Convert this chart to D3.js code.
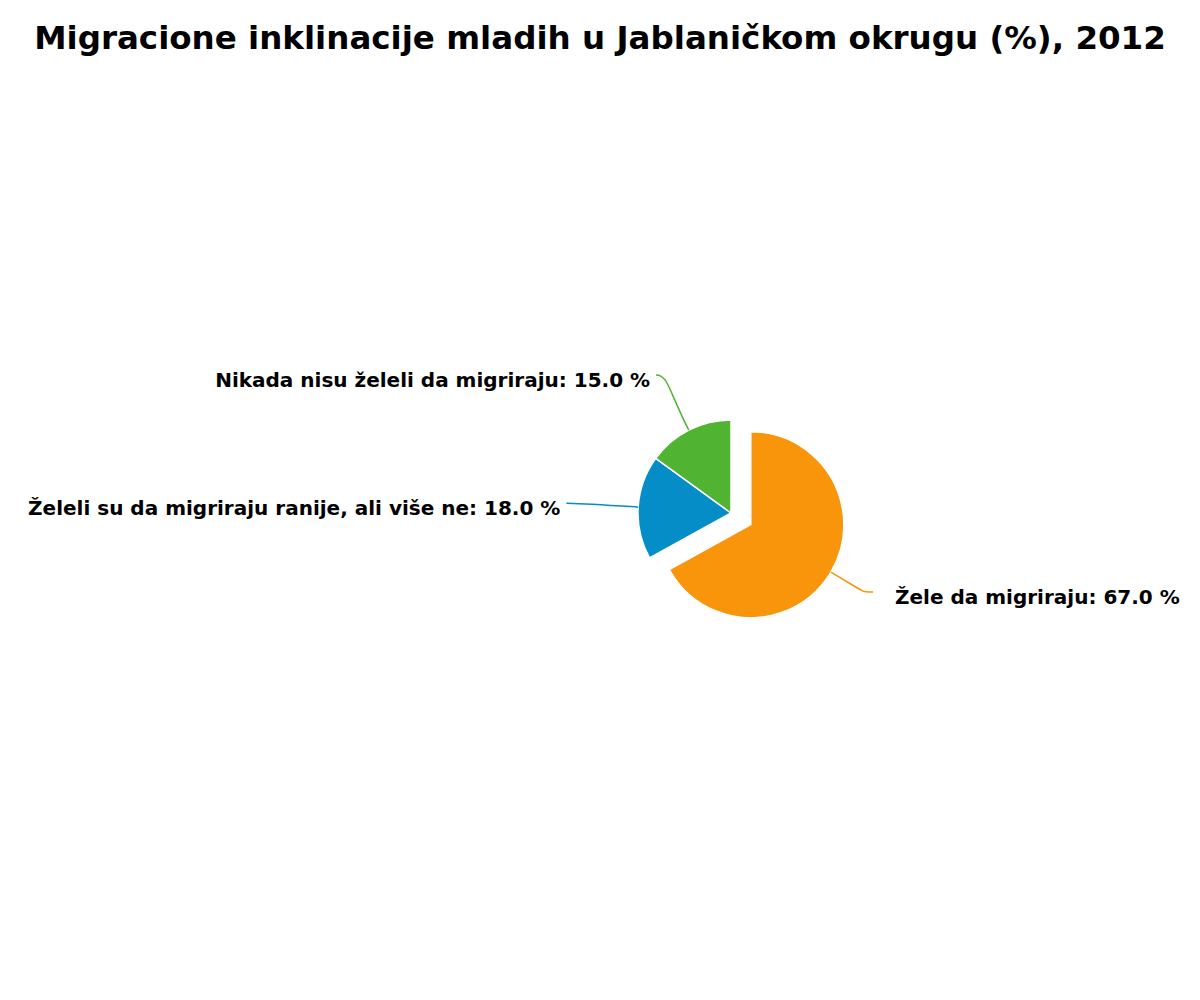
<!DOCTYPE html>
<html>
<head>
<meta charset="utf-8">
<script src="https://cdn.jsdelivr.net/npm/d3@7"></script>
<style>
  body { margin: 0; background: #fff; }
  svg { display: block; }
</style>
</head>
<body>
<div id="chart"></div>
<script>
// data
const title = "Migracione inklinacije mladih u Jablaničkom okrugu (%), 2012";
const categories = ["Žele da migriraju", "Želeli su da migriraju ranije, ali više ne", "Nikada nisu želeli da migriraju"];
const values = [67.0, 18.0, 15.0];
const colors = ["#f8950a", "#058dc7", "#50b432"];
const sliced = [true, false, false];

const width = 1200, height = 1000;
const cx = 731, cy = 513;       // pie centre
const radius = 93;
const explode = 23;
const labelRx = 165, labelRy = 155;

const svg = d3.select("#chart").append("svg")
    .attr("width", width)
    .attr("height", height);

svg.append("text")
    .attr("x", width / 2)
    .attr("y", 49)
    .attr("text-anchor", "middle")
    .style("font-family", "DejaVu Sans")
    .style("font-weight", "bold")
    .style("font-size", "32.5px")
    .text(title);

const slices = categories.map((c, i) => ({name: c, value: values[i], color: colors[i], sliced: sliced[i]}));

const pie = d3.pie().sort(null).value(d => d.value);
const arcs = pie(slices);
const arc = d3.arc().innerRadius(0).outerRadius(radius);

const g = svg.append("g").attr("transform", `translate(${cx},${cy})`);

// mid angle + explode offset
arcs.forEach(a => {
    const mid = (a.startAngle + a.endAngle) / 2;
    a.mid = mid;
    a.ox = a.data.sliced ? explode * Math.sin(mid) : 0;
    a.oy = a.data.sliced ? -explode * Math.cos(mid) : 0;
    a.ex = labelRx * Math.sin(mid);
    a.ey = -labelRy * Math.cos(mid);
    a.left = Math.sin(mid) < 0;
});

g.selectAll("path.slice")
    .data(arcs)
    .join("path")
    .attr("class", "slice")
    .attr("transform", d => `translate(${d.ox},${d.oy})`)
    .attr("d", arc)
    .attr("fill", d => d.data.color)
    .attr("stroke", "#fff")
    .attr("stroke-width", 1.5)
    .attr("stroke-linejoin", "round");

// connectors
function connector(d) {
    const s = Math.sin(d.mid), c = -Math.cos(d.mid);
    const ax = d.ox + radius * s, ay = d.oy + radius * c;
    const side = d.left ? -1 : 1;
    const p = d3.path();
    p.moveTo(ax, ay);
    p.bezierCurveTo(ax + 45 * s, ay + 45 * c, d.ex - side * 12, d.ey, d.ex, d.ey);
    return p.toString();
}

g.selectAll("path.link")
    .data(arcs)
    .join("path")
    .attr("class", "link")
    .attr("d", connector)
    .attr("fill", "none")
    .attr("stroke", d => d.data.color)
    .attr("stroke-width", 1.5);

g.selectAll("text.label")
    .data(arcs)
    .join("text")
    .attr("class", "label")
    .attr("x", d => d.ex + (d.left ? -6 : 22))
    .attr("y", d => d.ey + 5)
    .attr("dy", "0.35em")
    .attr("text-anchor", d => d.left ? "end" : "start")
    .style("font-family", "DejaVu Sans")
    .style("font-weight", "bold")
    .style("font-size", "20px")
    .text(d => `${d.data.name}: ${d.data.value.toFixed(1)} %`);
</script>
</body>
</html>
